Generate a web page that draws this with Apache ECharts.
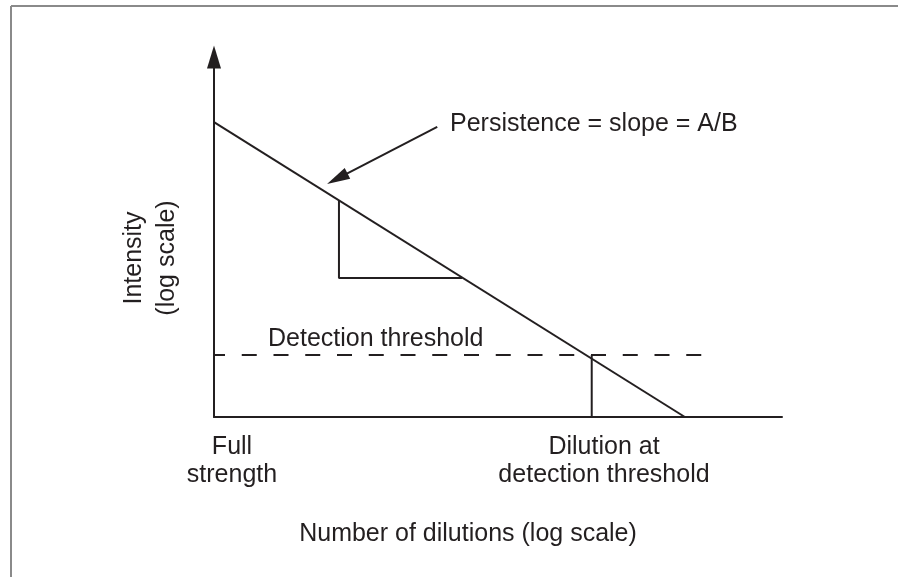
<!DOCTYPE html>
<html>
<head>
<meta charset="utf-8">
<title>Persistence</title>
<script src="https://cdn.jsdelivr.net/npm/echarts@6.0.0/dist/echarts.min.js"></script>
<style>
  html, body { margin: 0; padding: 0; background: #fff; }
  #main { width: 898px; height: 577px; }
</style>
</head>
<body>
<div id="main"></div>
<script>
// schematic values (x: 0..100, y: 0..100)
const decayLine = [[0, 81.9], [82.9, 0]];
const slopeTriangle = [[22.0, 60.3], [22.0, 38.6], [43.7, 38.6]];
const thresholdLine = [[0, 17.2], [85.9, 17.2]];
const dilutionLine = [[66.5, 17.2], [66.5, 0]];
const pointerArrow = [[39.3, 80.6], [21.7, 66.2]];

const ink = '#231f20';
const font = '"Liberation Sans", Arial, Helvetica, sans-serif';

const chart = echarts.init(document.getElementById('main'), null, { renderer: 'canvas' });

function segment(data, dashed) {
    return {
        type: 'line',
        data: data,
        symbol: 'none',
        silent: true,
        lineStyle: dashed
            ? { color: ink, width: 2, type: [15, 16.75], dashOffset: 4 }
            : { color: ink, width: 2, type: 'solid' }
    };
}

function label(text, x, y, align, extra) {
    return Object.assign({
        type: 'text',
        x: x,
        y: y,
        silent: true,
        style: {
            text: text,
            fill: ink,
            font: '25px ' + font,
            textAlign: align,
            textVerticalAlign: 'middle',
            lineHeight: 28
        }
    }, extra || {});
}

const option = {
    animation: false,
    backgroundColor: '#fff',
    grid: { left: 214, top: 57, width: 568, height: 360, containLabel: false, outerBoundsMode: 'none' },
    xAxis: {
        type: 'value', min: 0, max: 100,
        axisLine: { show: true, onZero: false, lineStyle: { color: ink, width: 2 } },
        axisTick: { show: false }, axisLabel: { show: false }, splitLine: { show: false }
    },
    yAxis: {
        type: 'value', min: 0, max: 100,
        axisLine: {
            show: true, onZero: false,
            symbol: ['none', 'triangle'], symbolSize: [14, 23],
            lineStyle: { color: ink, width: 2 }
        },
        axisTick: { show: false }, axisLabel: { show: false }, splitLine: { show: false }
    },
    series: [
        segment(decayLine),
        segment(slopeTriangle),
        segment(thresholdLine, true),
        segment(dilutionLine),
        {
            type: 'line',
            data: [],
            silent: true,
            markLine: {
                silent: true,
                animation: false,
                label: { show: false },
                lineStyle: { color: ink, width: 2, type: 'solid' },
                data: [[
                    { coord: pointerArrow[0], symbol: 'none' },
                    { coord: pointerArrow[1], symbol: 'triangle', symbolSize: [12, 23] }
                ]]
            }
        }
    ],
    graphic: [
        { type: 'line', silent: true, shape: { x1: 11, y1: 6, x2: 898, y2: 6 }, style: { stroke: '#8a8a8a', lineWidth: 2 } },
        { type: 'line', silent: true, shape: { x1: 11, y1: 6, x2: 11, y2: 577 }, style: { stroke: '#8a8a8a', lineWidth: 2 } },
        label('Persistence = slope = A/B', 450, 124, 'left'),
        label('Detection threshold', 268, 339, 'left'),
        label('Full\nstrength', 232, 461, 'center'),
        label('Dilution at\ndetection threshold', 604, 461, 'center'),
        label('Number of dilutions (log scale)', 468, 534, 'center'),
        label('Intensity\n(log scale)', 151, 258, 'center', { rotation: Math.PI / 2 })
    ]
};
option.graphic[7].style.lineHeight = 33;

chart.setOption(option);
window.addEventListener('resize', () => chart.resize());
</script>
</body>
</html>
